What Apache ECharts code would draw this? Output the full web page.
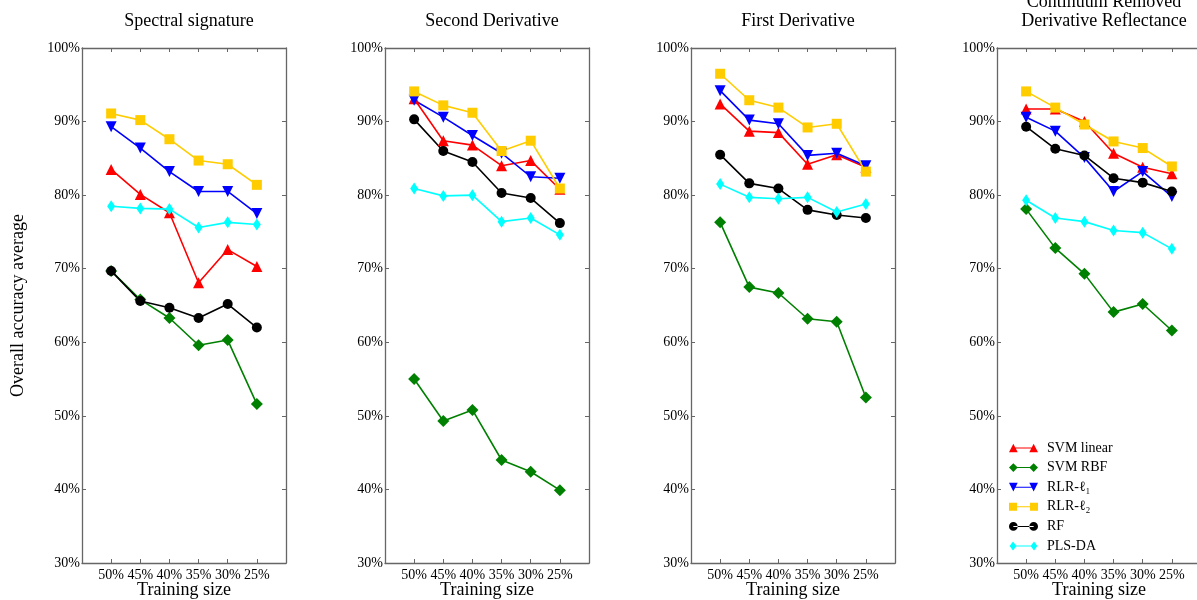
<!DOCTYPE html>
<html>
<head>
<meta charset="utf-8">
<script src="https://cdn.jsdelivr.net/npm/echarts@6/dist/echarts.min.js"></script>
<style>
html,body{margin:0;padding:0;background:#fff;}
#chart{width:1197px;height:600px;}
</style>
</head>
<body>
<div id="chart"></div>
<script>
// ---------- data ----------
const trainingSizes = ['50%', '45%', '40%', '35%', '30%', '25%'];
const yTicks = [30, 40, 50, 60, 70, 80, 90, 100];
const panelTitles = ['Spectral signature', 'Second Derivative', 'First Derivative', 'Continuum Removed\nDerivative Reflectance'];
const methods = ['SVM linear', 'SVM RBF', 'RLR-\u2113\u2081', 'RLR-\u2113\u2082', 'RF', 'PLS-DA'];

// Spectral signature
const spec_svmLinear = [83.5, 80.1, 77.6, 68.1, 72.6, 70.3];
const spec_svmRBF    = [69.7, 65.8, 63.3, 59.6, 60.3, 51.6];
const spec_rlrL1     = [89.3, 86.4, 83.2, 80.5, 80.5, 77.5];
const spec_rlrL2     = [91.1, 90.2, 87.6, 84.7, 84.2, 81.4];
const spec_rf        = [69.7, 65.6, 64.7, 63.3, 65.2, 62.0];
const spec_plsda     = [78.5, 78.2, 78.1, 75.6, 76.3, 76.0];

// Second Derivative
const sd_svmLinear = [93.1, 87.4, 86.8, 84.0, 84.7, 80.8];
const sd_svmRBF    = [55.0, 49.3, 50.8, 44.0, 42.4, 39.9];
const sd_rlrL1     = [92.9, 90.6, 88.1, 85.7, 82.5, 82.3];
const sd_rlrL2     = [94.1, 92.2, 91.2, 86.0, 87.4, 80.9];
const sd_rf        = [90.3, 86.0, 84.5, 80.3, 79.6, 76.2];
const sd_plsda     = [80.9, 79.9, 80.0, 76.4, 76.9, 74.6];

// First Derivative
const fd_svmLinear = [92.4, 88.7, 88.5, 84.2, 85.5, 83.8];
const fd_svmRBF    = [76.3, 67.5, 66.7, 63.2, 62.8, 52.5];
const fd_rlrL1     = [94.2, 90.2, 89.7, 85.4, 85.7, 84.0];
const fd_rlrL2     = [96.5, 92.9, 91.9, 89.2, 89.7, 83.2];
const fd_rf        = [85.5, 81.6, 80.9, 78.0, 77.3, 76.9];
const fd_plsda     = [81.5, 79.7, 79.5, 79.7, 77.7, 78.8];

// Continuum Removed Derivative Reflectance
const cr_svmLinear = [91.7, 91.7, 90.0, 85.7, 83.8, 82.9];
const cr_svmRBF    = [78.1, 72.8, 69.3, 64.1, 65.2, 61.6];
const cr_rlrL1     = [90.6, 88.7, 85.1, 80.5, 83.2, 79.8];
const cr_rlrL2     = [94.1, 91.9, 89.6, 87.3, 86.4, 83.9];
const cr_rf        = [89.3, 86.3, 85.4, 82.3, 81.7, 80.5];
const cr_plsda     = [79.3, 76.9, 76.4, 75.2, 74.9, 72.7];

const panels = [
  [spec_svmLinear, spec_svmRBF, spec_rlrL1, spec_rlrL2, spec_rf, spec_plsda],
  [sd_svmLinear, sd_svmRBF, sd_rlrL1, sd_rlrL2, sd_rf, sd_plsda],
  [fd_svmLinear, fd_svmRBF, fd_rlrL1, fd_rlrL2, fd_rf, fd_plsda],
  [cr_svmLinear, cr_svmRBF, cr_rlrL1, cr_rlrL2, cr_rf, cr_plsda]
];

// ---------- styles ----------
const FONT = '"Liberation Serif", "DejaVu Serif", serif';
const gridLefts = [82, 385, 691, 997];
const gridWidth = 204;
const gridTop = 48;
const gridHeight = 515;
const axisColor = '#666';

const LINE = 'M6,5.3 L34,5.3 L34,6.7 L6,6.7 Z ';
const styles = [
  {color: '#ff0000', symbol: 'triangle', size: 11, rotate: 0,
   icon: 'path://M0,12 L6,0 L12,12 Z M28,12 L34,0 L40,12 Z ' + LINE},
  {color: '#008000', symbol: 'diamond', size: 12, rotate: 0,
   icon: 'path://M0,6 L6,0 L12,6 L6,12 Z M28,6 L34,0 L40,6 L34,12 Z ' + LINE},
  {color: '#0000ff', symbol: 'triangle', size: 11, rotate: 180,
   icon: 'path://M0,0 L12,0 L6,12 Z M28,0 L40,0 L34,12 Z ' + LINE},
  {color: '#ffcc00', symbol: 'rect', size: 10, rotate: 0,
   icon: 'path://M0,0.5 L11,0.5 L11,11.5 L0,11.5 Z M29,0.5 L40,0.5 L40,11.5 L29,11.5 Z ' + LINE},
  {color: '#000000', symbol: 'circle', size: 10, rotate: 0,
   icon: 'path://M0,6 A6,6 0 1,0 12,6 A6,6 0 1,0 0,6 Z M28,6 A6,6 0 1,0 40,6 A6,6 0 1,0 28,6 Z ' + LINE},
  {color: '#00ffff', symbol: 'diamond', size: [8, 12], rotate: 0,
   icon: 'path://M1.5,6 L6,0 L10.5,6 L6,12 Z M29.5,6 L34,0 L38.5,6 L34,12 Z ' + LINE}
];

const xCats = [''].concat(trainingSizes, ['']);

const grid = [], xAxis = [], yAxis = [], series = [], title = [];
panels.forEach((panel, p) => {
  grid.push({left: gridLefts[p], top: gridTop, width: gridWidth, height: gridHeight,
             show: false, containLabel: false, outerBoundsMode: 'none'});
  const baseX = {
    type: 'category', data: xCats, boundaryGap: false, gridIndex: p,
    axisLine: {show: true, lineStyle: {color: axisColor, width: 1.3}},
    axisTick: {show: true, inside: true, length: 4, interval: 0, lineStyle: {color: axisColor}},
    splitLine: {show: false}
  };
  xAxis.push(Object.assign({}, baseX, {
    position: 'bottom',
    axisLabel: {show: true, interval: 0, color: '#000', fontFamily: FONT, fontSize: 14, margin: 5},
    name: 'Training size', nameLocation: 'middle', nameGap: 18, nameMoveOverlap: false,
    nameTextStyle: {color: '#000', fontFamily: FONT, fontSize: 18}
  }));
  xAxis.push(Object.assign({}, baseX, {position: 'top', axisLabel: {show: false}}));
  const baseY = {
    type: 'value', min: yTicks[0], max: yTicks[yTicks.length - 1], interval: 10, gridIndex: p,
    axisLine: {show: true, lineStyle: {color: axisColor, width: 1.3}},
    axisTick: {show: true, inside: true, length: 4, lineStyle: {color: axisColor}},
    splitLine: {show: false}
  };
  const leftY = Object.assign({}, baseY, {
    position: 'left',
    axisLabel: {show: true, color: '#000', fontFamily: FONT, fontSize: 14, margin: 2, formatter: '{value}%'}
  });
  if (p === 0) {
    Object.assign(leftY, {
      name: 'Overall accuracy average', nameLocation: 'middle', nameGap: 55,
      nameTextStyle: {color: '#000', fontFamily: FONT, fontSize: 18}
    });
  }
  yAxis.push(leftY);
  yAxis.push(Object.assign({}, baseY, {position: 'right', axisLabel: {show: false}}));

  title.push({
    text: panelTitles[p],
    left: gridLefts[p] + gridWidth / 2,
    top: p === 3 ? -12 : 6,
    textAlign: 'center',
    textStyle: {color: '#000', fontFamily: FONT, fontSize: 18, fontWeight: 'normal', lineHeight: p === 3 ? 19 : 20}
  });

  panel.forEach((vals, m) => {
    const st = styles[m];
    series.push({
      name: methods[m], type: 'line',
      xAxisIndex: 2 * p, yAxisIndex: 2 * p,
      data: trainingSizes.map((s, i) => [s, vals[i]]),
      symbol: st.symbol, symbolSize: st.size, symbolRotate: st.rotate,
      showAllSymbol: true,
      lineStyle: {color: st.color, width: 1.6},
      itemStyle: {color: st.color},
      emphasis: {disabled: true},
      animation: false
    });
  });
});

const option = {
  backgroundColor: '#fff',
  animation: false,
  title: title,
  grid: grid,
  xAxis: xAxis,
  yAxis: yAxis,
  legend: {
    orient: 'vertical', left: 1004, top: 436,
    itemWidth: 29, itemHeight: 9, itemGap: 5.6,
    textStyle: {color: '#000', fontFamily: FONT, fontSize: 14, lineHeight: 14, padding: [0, 0, 0, 4]},
    data: methods.map((m, i) => ({name: m, icon: styles[i].icon})),
    selectedMode: false
  },
  series: series
};

const chart = echarts.init(document.getElementById('chart'), null, {renderer: 'canvas'});
chart.setOption(option);
</script>
</body>
</html>
